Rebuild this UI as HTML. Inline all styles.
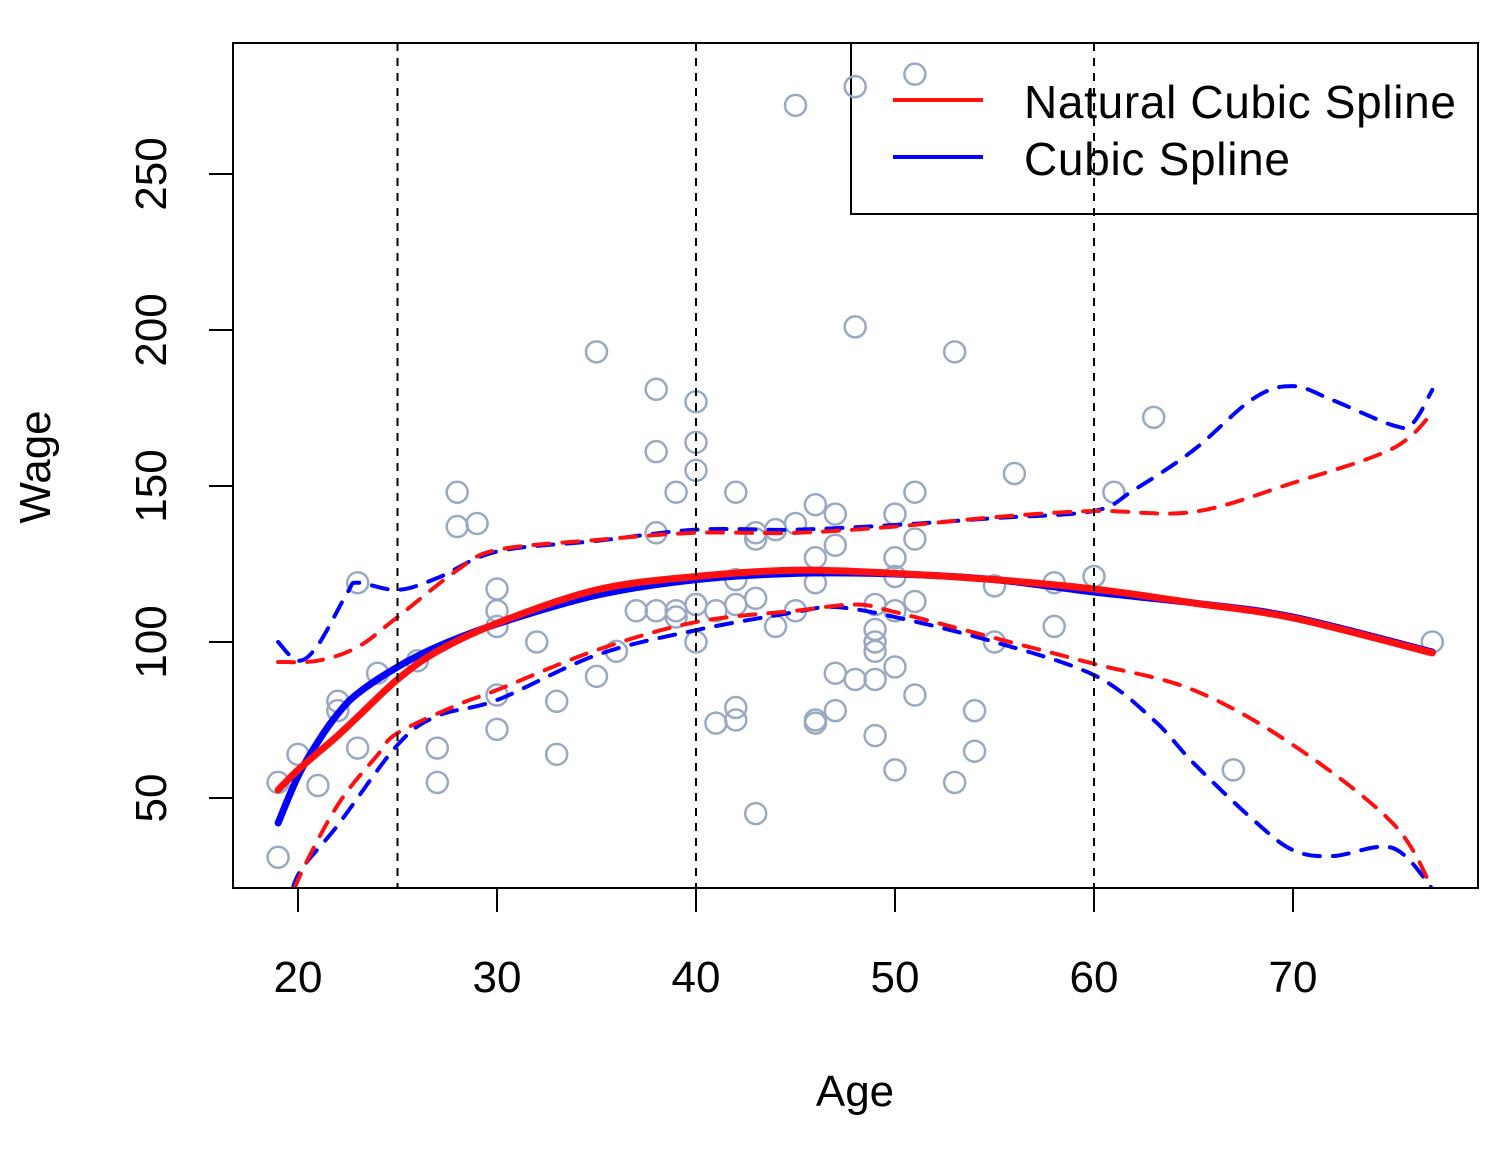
<!DOCTYPE html>
<html><head><meta charset="utf-8"><style>
body{margin:0;background:#fff;}
svg text{font-family:"Liberation Sans",Arial,sans-serif;}
</style></head><body>
<svg id="chart" width="1504" height="1146" viewBox="0 0 1504 1146" xmlns="http://www.w3.org/2000/svg">
<defs><clipPath id="clip"><rect x="233" y="43" width="1245" height="845"/></clipPath></defs>
<g>
<rect x="851" y="43" width="627" height="171" fill="none" stroke="#000" stroke-width="2"/>
<line x1="893" y1="100" x2="983" y2="100" stroke="#ff1010" stroke-width="4"/>
<text x="1024" y="118" font-size="46" textLength="432">Natural Cubic Spline</text>
<line x1="893" y1="157" x2="983" y2="157" stroke="#0000ff" stroke-width="4"/>
<text x="1024" y="175" font-size="46" textLength="266">Cubic Spline</text>
</g>
<g id="points" clip-path="url(#clip)"></g>
<g id="lines" clip-path="url(#clip)"></g>
<rect x="233" y="43" width="1245" height="845" fill="none" stroke="#000" stroke-width="2"/>
<g id="xaxis"></g>
<g id="yaxis"></g>
<text x="855" y="1106" font-size="44" text-anchor="middle">Age</text>
<text transform="translate(50,467) rotate(-90)" font-size="44" text-anchor="middle">Wage</text>
<g id="knots"></g>
</svg>
<script>
const ages=[19,19,20,21,22,22,23,23,24,26,27,27,28,28,29,30,30,30,30,30,32,33,33,35,35,36,37,38,38,38,38,39,39,39,40,40,40,40,40,41,41,42,42,42,42,42,43,43,43,43,44,44,45,45,45,46,46,46,46,46,47,47,47,47,48,48,48,49,49,49,49,49,49,50,50,50,50,50,50,51,51,51,51,51,53,53,54,54,55,55,56,58,58,60,61,63,67,77];
const wages=[55,31,64,54,81,78,119,66,90,94,66,55,148,137,138,117,110,105,83,72,100,81,64,193,89,97,110,181,161,135,110,148,110,108,177,164,155,112,100,110,74,148,120,112,79,75,135,133,114,45,136,105,272,138,110,144,127,119,75,74,141,131,90,78,278,201,88,112,104,100,97,88,70,141,127,121,110,92,59,282,148,133,113,83,193,55,78,65,118,100,154,119,105,121,148,172,59,100];
const fitAges=[19,20,21,22,23,25,27,30,35,40,45,50,55,60,65,70,77];
const nsFit=[52.6,59,64.5,70,76,88,97,106,116.7,121,123,122,120,117,112.5,107.7,96.5];
const csFit=[42,57,68,77,83.5,92,98.5,105.8,115,120,122,121.8,120,116,112.5,108,96.8];
const nsUpAges=[19,21,23,25,28,30,35,40,45,50,55,60,65,70,75,77];
const nsUpper=[93.6,94,98.4,108,123,129.5,132.7,135,135,137,140,142,141.7,151,162,173.4];
const csUpAges=[19,20,21,22.5,23,25,27,30,35,40,45,50,55,60,62,65,68,70,72,75,76,77];
const csUpper=[100,94,99,116,119,116.7,120.5,129,132.4,136,136,137.5,139.7,142,148.7,161.5,178,182,177.5,169.5,170,180.8];
const nsLoAges=[19.5,20,22,24,25,28,30,35,40,45,48,50,55,60,65,70,75,77];
const nsLower=[12,23.7,47.8,63.8,70.8,79.8,84.6,97.4,106.4,110,112,109.6,101.3,93,84.6,67,42,21];
const csLoAges=[19.5,20,22,25,27,30,35,40,45,47,50,55,60,63,65,68,70,72,75,77];
const csLower=[12,25.3,41.3,67,76.3,81.4,95.8,103.8,109.6,111.2,108,100,89.4,75,61.2,43,33.3,31.4,34,21];
const xTicks=[20,30,40,50,60,70];
const yTicks=[50,100,150,200,250];
const knots=[25,40,60];
const NS='http://www.w3.org/2000/svg';
function xs(a){return 298+(a-20)*19.9;}
function ys(w){return 798-(w-50)*3.12;}
function mk(tag,attrs,parent){const e=document.createElementNS(NS,tag);for(const k in attrs)e.setAttribute(k,attrs[k]);parent.appendChild(e);return e;}
function pathD(xa,ya){const p=xa.map((a,i)=>[xs(a),ys(ya[i])]);let d='M'+p[0][0]+','+p[0][1];
for(let i=0;i<p.length-1;i++){const p0=p[Math.max(0,i-1)],p1=p[i],p2=p[i+1],p3=p[Math.min(p.length-1,i+2)];
d+=' C'+(p1[0]+(p2[0]-p0[0])/6)+','+(p1[1]+(p2[1]-p0[1])/6)+' '+(p2[0]-(p3[0]-p1[0])/6)+','+(p2[1]-(p3[1]-p1[1])/6)+' '+p2[0]+','+p2[1];}return d;}
const gp=document.getElementById('points');
ages.forEach((a,i)=>{const c=mk('circle',{cx:xs(a),cy:ys(wages[i]),r:10.5,fill:'none',stroke:'#9aa9c2','stroke-width':2.5},gp);

});
const gl=document.getElementById('lines');
const series=[[csLoAges,csLower,'#0000ff',4,'16 13','cs-lower-band'],[csUpAges,csUpper,'#0000ff',4,'16 13','cs-upper-band'],
[nsLoAges,nsLower,'#ff1010',4,'16 13','ns-lower-band'],[nsUpAges,nsUpper,'#ff1010',4,'16 13','ns-upper-band'],
[fitAges,csFit,'#0000ff',7,'','cubic-spline-fit'],[fitAges,nsFit,'#ff1010',7,'','natural-spline-fit']];
series.forEach(s=>{const p=mk('path',{d:pathD(s[0],s[1]),fill:'none',stroke:s[2],'stroke-width':s[3],'stroke-linecap':'round'},gl);
if(s[4])p.setAttribute('stroke-dasharray',s[4]);

});
const gk=document.getElementById('knots');
knots.forEach(k=>{const l=mk('line',{x1:xs(k),x2:xs(k),y1:43,y2:888,stroke:'#000','stroke-width':2,'stroke-dasharray':'8 7'},gk);

});
const gx=document.getElementById('xaxis');
mk('line',{x1:xs(20),x2:xs(70),y1:888,y2:888,stroke:'#000','stroke-width':2},gx);
xTicks.forEach(t=>{const l=mk('line',{x1:xs(t),x2:xs(t),y1:888,y2:912,stroke:'#000','stroke-width':2},gx);


const tx=mk('text',{x:xs(t),y:992,'font-size':44,'text-anchor':'middle'},gx);tx.textContent=t;

});
const gy=document.getElementById('yaxis');
yTicks.forEach(t=>{const l=mk('line',{x1:209,x2:233,y1:ys(t),y2:ys(t),stroke:'#000','stroke-width':2},gy);


const tx=mk('text',{transform:'translate(166,'+ys(t)+') rotate(-90)','font-size':44,'text-anchor':'middle'},gy);tx.textContent=t;

});
</script>
</body></html>
